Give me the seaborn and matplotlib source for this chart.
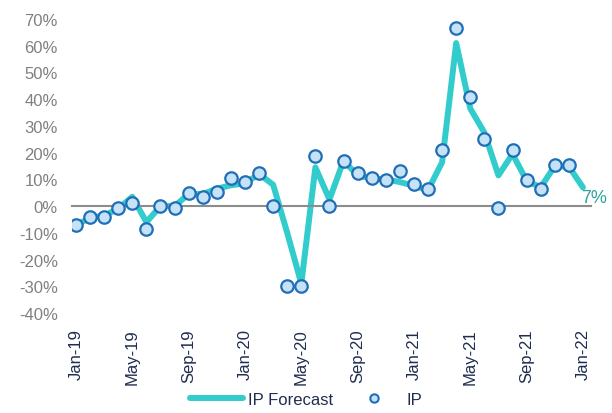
import seaborn as sns
import matplotlib.pyplot as plt
from matplotlib.lines import Line2D
import pandas as pd
import numpy as np

# Months Jan-19 .. Jan-22
months = pd.date_range('2019-01-01', '2022-01-01', freq='MS')
month_labels = [m.strftime('%b-%y') for m in months]

# IP forecast (%), Jan-19 .. Jan-22
ip_forecast = [-7, -4.5, -3.5, -1, 3.5, -6, 0, 0, 4.5, 4.5, 6.5, 7.8,
               8.5, 12, 8, -10, -29, 14.5, 2.5, 17, 11.5, 10.3, 10, 9,
               7.6, 6, 16.4, 61, 36.5, 27.5, 11.5, 19.5, 9.5, 7, 15, 14.8,
               7]

# IP actual (%), Jan-19 .. Dec-21
ip_actual = [-7, -3.9, -3.9, -0.8, 1.0, -8.6, 0.1, -0.7, 4.9, 3.3, 5.1, 10.5,
             8.9, 12.2, 0.1, -30, -30, 18.6, 0.1, 17, 12.2, 10.6, 9.9, 13,
             8.2, 6.4, 21, 66.5, 40.9, 25.1, -0.6, 21, 9.7, 6.4, 15.5, 15.5]

df_fc = pd.DataFrame({'x': np.arange(len(ip_forecast)), 'val': ip_forecast})
df_ip = pd.DataFrame({'x': np.arange(len(ip_actual)), 'val': ip_actual})

line_color = '#33CCCC'
marker_face = '#C6E2F7'
marker_edge = '#1F6EB8'
navy = '#1F2D4F'
grey = '#808080'

sns.set_style("white")
plt.rcParams['font.family'] = ['Liberation Sans', 'DejaVu Sans']

fig = plt.figure(figsize=(6.12, 4.14), dpi=100)
ax = fig.add_axes([0.1173, 0.2415, 0.849, 0.7102])

sns.lineplot(data=df_fc, x='x', y='val', ax=ax, color=line_color,
             linewidth=4.3, legend=False)
sns.scatterplot(data=df_ip, x='x', y='val', ax=ax, s=80, color=marker_face,
                edgecolor=marker_edge, linewidth=1.6, zorder=3, legend=False)

# end label
ax.annotate(f"{ip_forecast[-1]:.0f}%", xy=(len(ip_forecast) - 1, ip_forecast[-1]),
            xytext=(-1, -7), textcoords='offset points', ha='left', va='center',
            fontsize=13, color='#2AA59C')

ax.set_xlim(-0.3, 36.6)
ax.set_ylim(-40, 70)
ax.set_yticks(np.arange(-40, 71, 10))
ax.set_yticklabels([f"{v}%" for v in range(-40, 71, 10)])
ax.tick_params(axis='y', length=0, labelsize=12, labelcolor=grey, pad=10)
ax.set_xlabel('')
ax.set_ylabel('')

for s in ['top', 'right', 'left']:
    ax.spines[s].set_visible(False)
ax.spines['bottom'].set_position(('data', 0))
ax.spines['bottom'].set_color('#8C8C8C')
ax.spines['bottom'].set_linewidth(1.5)

tick_pos = np.arange(0, len(ip_forecast), 4)
ax.set_xticks(tick_pos - 0.3)
ax.tick_params(axis='x', direction='out', length=5, width=1.5,
               color='#8C8C8C', labelbottom=False)

# labels at the bottom of the plot area
sec = ax.secondary_xaxis(0)
sec.set_xticks(tick_pos)
sec.set_xticklabels([month_labels[i] for i in tick_pos], rotation=90)
sec.tick_params(length=0, labelsize=12, labelcolor=navy, pad=11)
sec.spines['bottom'].set_visible(False)

handles = [
    Line2D([0], [0], color=line_color, linewidth=4.3, label='IP Forecast'),
    Line2D([0], [0], marker='o', linestyle='none', markersize=6,
           markerfacecolor=marker_face, markeredgecolor=marker_edge,
           markeredgewidth=1.5, label='IP'),
]
fig.legend(handles=handles, loc='lower center', bbox_to_anchor=(0.5, -0.022),
           ncol=2, frameon=False, fontsize=12, handlelength=3.2,
           handletextpad=0.3, columnspacing=0.85, labelcolor=navy)

fig.savefig('out.png', dpi=100)
